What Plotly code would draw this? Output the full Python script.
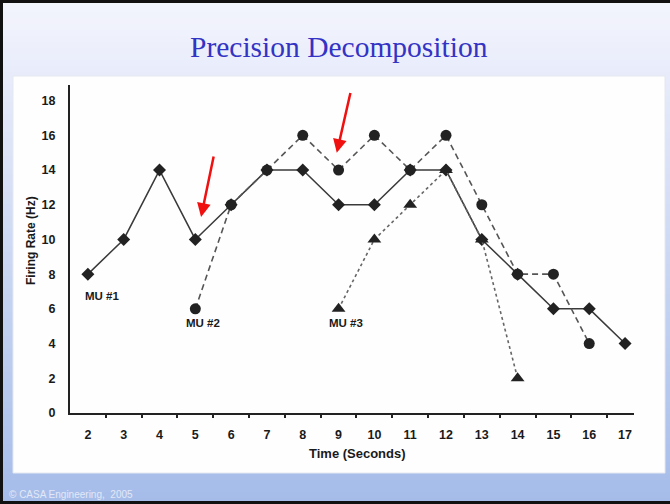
import plotly.graph_objects as go

# ---------------- data ----------------
seconds = list(range(2, 18))
mu1_x = [2, 3, 4, 5, 6, 7, 8, 9, 10, 11, 12, 13, 14, 15, 16, 17]
mu1_y = [8, 10, 14, 10, 12, 14, 14, 12, 12, 14, 14, 10, 8, 6, 6, 4]
mu2_x = [5, 6, 7, 8, 9, 10, 11, 12, 13, 14, 15, 16]
mu2_y = [6, 12, 14, 16, 14, 16, 14, 16, 12, 8, 8, 4]
mu3_x = [9, 10, 11, 12, 13, 14]
mu3_y = [6, 10, 12, 14, 10, 2]
y_ticks = list(range(0, 19, 2))
labels = ["MU #1", "MU #2", "MU #3"]
label_pos = [(2.38, 6.74), (5.21, 5.19), (9.21, 5.19)]
# red arrows: (tip x, tip y, tail x, tail y)
arrows = [(5.16, 11.3, 5.52, 14.87), (8.95, 14.99, 9.34, 18.52)]

W, H = 670, 504
L, R, T, B = 70, 36, 85, 91
PW, PH = W - L - R, H - T - B


def fx(px):
    return (px - L) / PW


def fy(py):
    return (H - B - py) / PH


fig = go.Figure()
fig.add_trace(go.Scatter(x=mu1_x, y=mu1_y, mode="lines+markers", name="MU #1",
                         line=dict(color="#3a3a3a", width=1.5),
                         marker=dict(symbol="diamond", size=10, color="#222222"),
                         cliponaxis=False))
fig.add_trace(go.Scatter(x=mu2_x, y=mu2_y, mode="lines+markers", name="MU #2",
                         line=dict(color="#555555", width=1.6, dash="6px,4px"),
                         marker=dict(symbol="circle", size=11, color="#222222"),
                         cliponaxis=False))
fig.add_trace(go.Scatter(x=mu3_x, y=mu3_y, mode="lines+markers", name="MU #3",
                         line=dict(color="#666666", width=1.6, dash="dot"),
                         marker=dict(symbol="triangle-up", size=12, color="#222222"),
                         cliponaxis=False))

# ---------------- background (gradient slide) ----------------
shapes = []
stops = [(0, (244, 245, 253)), (80, (231, 235, 250)), (H, (165, 188, 233))]


def col_at(py):
    for (p0, c0), (p1, c1) in zip(stops[:-1], stops[1:]):
        if p0 <= py <= p1:
            t = (py - p0) / (p1 - p0)
            return "rgb(%d,%d,%d)" % tuple(round(a + (b - a) * t) for a, b in zip(c0, c1))
    return "rgb(%d,%d,%d)" % stops[-1][1]


n = 84
for i in range(n):
    y0 = H * i / n
    y1 = H * (i + 1) / n + 0.8
    shapes.append(dict(type="rect", xref="paper", yref="paper", layer="below",
                       x0=fx(0), x1=fx(W), y0=fy(y1), y1=fy(y0),
                       line=dict(width=0), fillcolor=col_at((y0 + y1) / 2)))
# white chart box
shapes.append(dict(type="rect", xref="paper", yref="paper", layer="below",
                   x0=fx(13), x1=fx(665), y0=fy(473), y1=fy(76),
                   line=dict(width=1, color="#e4e8f0"), fillcolor="#fefefe"))
# slide frame (left, top, bottom edges)
for (ax0, ay0, ax1, ay1) in [(1.5, 0, 1.5, H), (0, 1.5, W, 1.5), (0, 502.5, W, 502.5)]:
    shapes.append(dict(type="line", xref="paper", yref="paper", layer="above",
                       x0=fx(ax0), x1=fx(ax1), y0=fy(ay0), y1=fy(ay1),
                       line=dict(width=3, color="#111111")))

annotations = []
annotations.append(dict(text="Precision Decomposition", xref="paper", yref="paper",
                        x=fx(339), y=fy(47), xanchor="center", yanchor="middle",
                        showarrow=False,
                        font=dict(family="Liberation Serif, Times New Roman, serif",
                                  size=29.5, color="#3333c4")))
annotations.append(dict(text="Time (Seconds)", xref="paper", yref="paper",
                        x=fx(357), y=fy(453), xanchor="center", yanchor="middle",
                        showarrow=False,
                        font=dict(family="Liberation Sans, Arial, sans-serif",
                                  size=13, color="#1a1a1a", weight="bold")))
annotations.append(dict(text="Firing Rate (Hz)", xref="paper", yref="paper",
                        x=fx(31), y=fy(241), xanchor="center", yanchor="middle",
                        textangle=-90, showarrow=False,
                        font=dict(family="Liberation Sans, Arial, sans-serif",
                                  size=12, color="#1a1a1a", weight="bold")))
annotations.append(dict(text="© CASA Engineering,  2005", xref="paper", yref="paper",
                        x=fx(7), y=fy(494), xanchor="left", yanchor="middle",
                        showarrow=False,
                        font=dict(family="Liberation Sans, Arial, sans-serif",
                                  size=10, color="#e2e8f7")))
for txt, (lx, ly) in zip(labels, label_pos):
    annotations.append(dict(text=txt, x=lx, y=ly, xref="x", yref="y",
                            showarrow=False, xanchor="center", yanchor="middle",
                            font=dict(family="Liberation Sans, Arial, sans-serif",
                                      size=11.5, color="#1a1a1a", weight="bold")))
for tx, ty, ax, ay in arrows:
    annotations.append(dict(text="", x=tx, y=ty, ax=ax, ay=ay, xref="x", yref="y",
                            axref="x", ayref="y", showarrow=True, arrowhead=2,
                            arrowsize=1.1, arrowwidth=2.5, arrowcolor="#f01010",
                            standoff=0, startstandoff=0))

half_ticks = [s + 0.5 for s in seconds[:-1]]
xr = [1.5, 17.25]
tick_font = dict(family="Liberation Sans, Arial, sans-serif", size=12.5,
                 color="#1a1a1a", weight="bold")

fig.update_layout(
    width=W, height=H,
    margin=dict(l=L, r=R, t=T, b=B, pad=0),
    paper_bgcolor="#a5bce8",
    plot_bgcolor="rgba(0,0,0,0)",
    showlegend=False,
    shapes=shapes,
    annotations=annotations,
    xaxis=dict(range=xr, tickmode="array", tickvals=seconds,
               ticktext=[str(s) for s in seconds], ticks="",
               showgrid=False, zeroline=False, showline=True,
               linecolor="#222222", linewidth=2, tickfont=tick_font,
               ticklabelstandoff=9,
               minor=dict(tickmode="array", tickvals=half_ticks, ticks="outside",
                          ticklen=3, tickwidth=1.5, tickcolor="#222222")),
    xaxis2=dict(range=xr, overlaying="x", anchor="y", side="bottom",
                tickmode="array", tickvals=half_ticks, ticks="inside",
                ticklen=3, tickwidth=1.5, tickcolor="#222222",
                showticklabels=False, showgrid=False, zeroline=False,
                showline=False),
    yaxis=dict(range=[0, 18.9], tickmode="array", tickvals=y_ticks, ticks="",
               showgrid=False, zeroline=False, showline=True,
               linecolor="#222222", linewidth=2, tickfont=tick_font,
               ticklabelstandoff=10),
)

fig.write_html("out.html",
               config={"displayModeBar": False},
               post_script="document.body.style.margin='0';"
                           "document.body.style.overflow='hidden';"
                           "document.documentElement.style.background='#d2ddf4';"
                           "document.body.style.background='#d2ddf4';")
